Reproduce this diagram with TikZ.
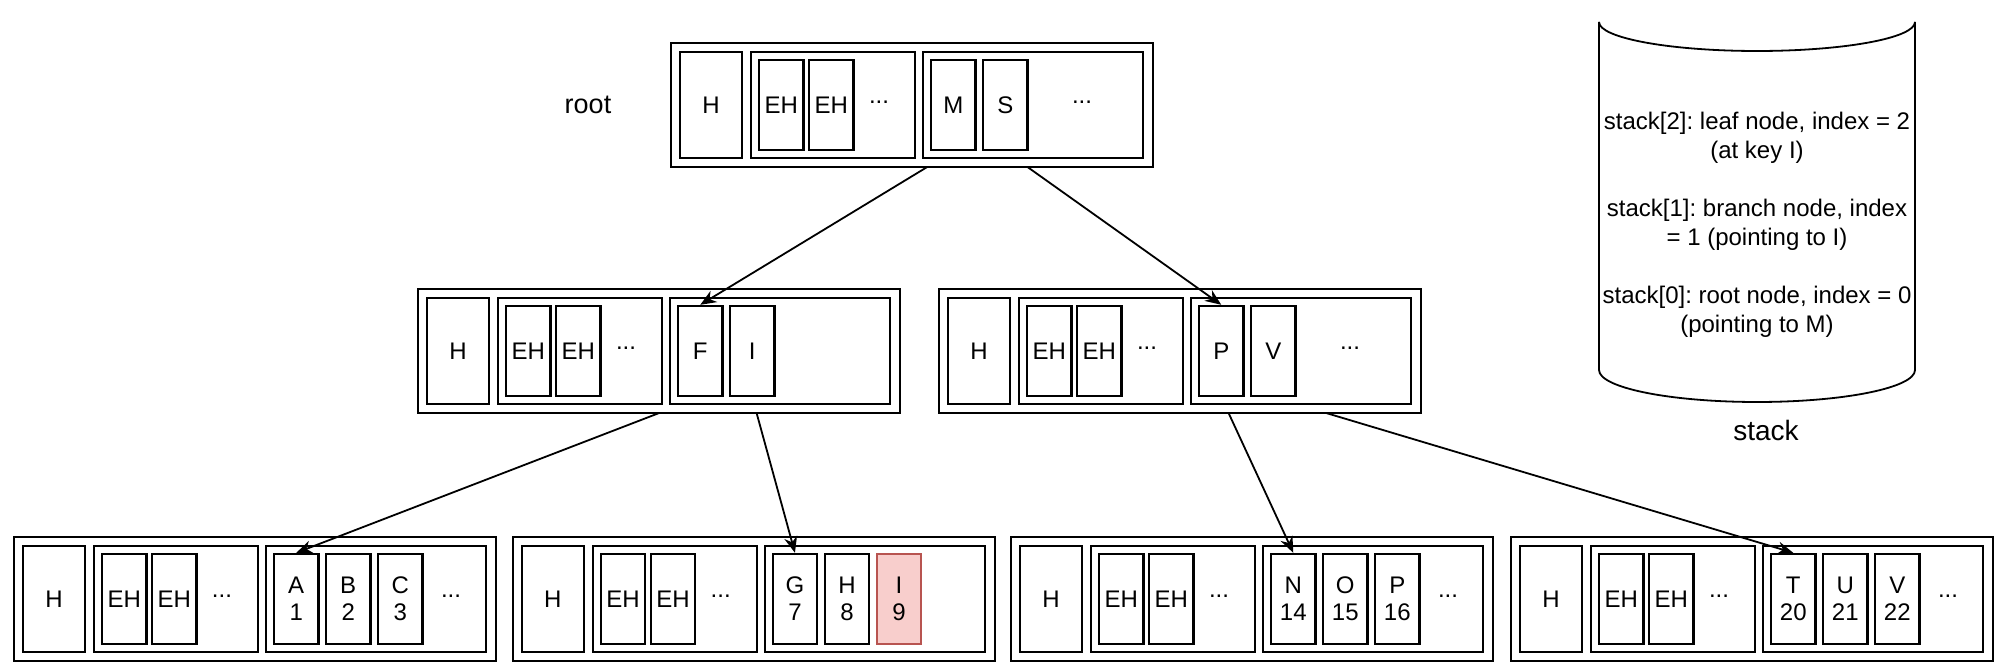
\documentclass[tikz,border=0pt]{standalone}
\usepackage{fontspec}
\setmainfont{Liberation Sans}
\usetikzlibrary{arrows.meta, calc, positioning}

\definecolor{hotfill}{HTML}{F8CECC}
\definecolor{hotline}{HTML}{B85450}

\pgfdeclarelayer{leaves}
\pgfdeclarelayer{leafedges}
\pgfdeclarelayer{branches}
\pgfdeclarelayer{branchedges}
\pgfsetlayers{leaves,leafedges,branches,branchedges,main}

\tikzset{
  box/.style={draw, line width=1.2pt, fill=white, inner sep=0pt},
  pagebox/.style={box, minimum width=241pt, minimum height=62pt},
  hdrbox/.style={box, minimum width=31pt, minimum height=53pt},
  grpbox/.style={box, minimum height=53pt},
  cell/.style={box, minimum width=22.25pt, minimum height=45pt, align=center},
  hotcell/.style={cell, draw=hotline, fill=hotfill},
  dots/.style={anchor=base, inner sep=0pt},
  ptr/.style={-{Stealth[length=8pt, width=6.5pt]}, line width=0.9pt},
  lbl/.style={font=\fontsize{14}{16}\selectfont},
}

% header + entry-header group + empty key group of one page
\newcommand{\pagebody}[1]{%
  \node[pagebox] (#1) at (241,62) {};
  \node[hdrbox] (#1-h) at (40,62) {H};
  \node[grpbox, minimum width=82pt] (#1-eh) at (162,62) {};
  \node[cell] (#1-eh1) at (110.25,62) {EH};
  \node[cell] (#1-eh2) at (160.25,62) {EH};
  \node[dots] (#1-ehdots) at (208,61) {...};
  \node[grpbox, minimum width=110pt] (#1-keys) at (362,62) {};}

\begin{document}
\frenchspacing
\begin{tikzpicture}[x=0.5pt, y=-0.5pt, font=\fontsize{12}{13.5}\selectfont]
\useasboundingbox (0,0) rectangle (2004,672);

% Root page
\begin{scope}[shift={(671,43)}]
\pagebody{root}
\node[cell] (root-m) at (282.25,62) {M};
\node[cell] (root-s) at (334.25,62) {S};
\node[dots] (root-kdots) at (411,61) {...};
\end{scope}
\node[lbl, font=\fontsize{13.5}{16}\selectfont] (rootlbl) at (588,105) {root};

% Branch pages
\begin{pgfonlayer}{branches}
\begin{scope}[shift={(418,289)}]
\pagebody{brl}
\node[cell] (brl-f) at (282.25,62) {F};
\node[cell] (brl-i) at (334.25,62) {I};
\end{scope}
\begin{scope}[shift={(939,289)}]
\pagebody{brr}
\node[cell] (brr-p) at (282.25,62) {P};
\node[cell] (brr-v) at (334.25,62) {V};
\node[dots] (brr-kdots) at (411,61) {...};
\end{scope}
\end{pgfonlayer}

% Leaf pages
\begin{pgfonlayer}{leaves}
\begin{scope}[shift={(14,537)}]
\pagebody{lf1}
\foreach \k/\v/\i in {A/1/1, B/2/2, C/3/3}
  \node[cell] (lf1-\i) at ({230.25+52*\i},62) {\k\\\v};
\node[dots] (lf1-kdots) at (437,61) {...};
\end{scope}
\begin{scope}[shift={(512.7,537)}]
\pagebody{lf2}
\foreach \k/\v/\i in {G/7/1, H/8/2}
  \node[cell] (lf2-\i) at ({230.25+52*\i},62) {\k\\\v};
\node[hotcell] (lf2-3) at (386.25,62) {I\\9};
\end{scope}
\begin{scope}[shift={(1011,537)}]
\pagebody{lf3}
\foreach \k/\v/\i in {N/14/1, O/15/2, P/16/3}
  \node[cell] (lf3-\i) at ({230.25+52*\i},62) {\k\\\v};
\node[dots] (lf3-kdots) at (437,61) {...};
\end{scope}
\begin{scope}[shift={(1511,537)}]
\pagebody{lf4}
\foreach \k/\v/\i in {T/20/1, U/21/2, V/22/3}
  \node[cell] (lf4-\i) at ({230.25+52*\i},62) {\k\\\v};
\node[dots] (lf4-kdots) at (437,61) {...};
\end{scope}
\end{pgfonlayer}

% Pointers
\begin{pgfonlayer}{branchedges}
\draw[ptr] (root-m.south) -- (brl-f.north);
\draw[ptr] (root-s.south) -- (brr-p.north);
\end{pgfonlayer}
\begin{pgfonlayer}{leafedges}
\draw[ptr] (brl-f.south) -- (lf1-1.north);
\draw[ptr] (brl-i.south) -- (lf2-1.north);
\draw[ptr] (brr-p.south) -- (lf3-1.north);
\draw[ptr] (brr-v.south) -- (lf4-1.north);
\end{pgfonlayer}

% Stack
\draw[line width=0.9pt] (1599,22) arc[start angle=180, end angle=0, x radius=158, y radius=29];
\draw[line width=0.9pt] (1599,22) -- (1599,370)
  arc[start angle=180, end angle=0, x radius=158, y radius=32] -- (1915,22);
\node[align=center, font=\fontsize{12}{14.5}\selectfont] (stk) at (1757,225)
  {stack[2]: leaf node, index = 2\\(at key I)\\[14.5pt]
   stack[1]: branch node, index\\= 1 (pointing to I)\\[14.5pt]
   stack[0]: root node, index = 0\\(pointing to M)};
\node[lbl] (stklbl) at (1766,430) {stack};
\end{tikzpicture}
\end{document}
